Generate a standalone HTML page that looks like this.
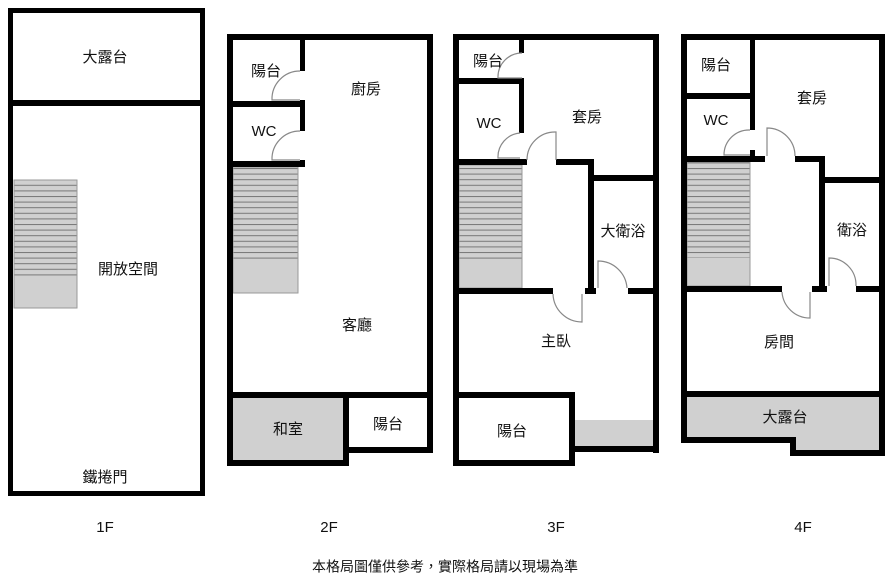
<!DOCTYPE html>
<html><head><meta charset="utf-8"><style>
html,body{margin:0;padding:0;background:#fff;}
svg{display:block;}
text{font-family:"Liberation Sans","Noto Sans CJK TC",sans-serif;font-size:15px;fill:#111;text-anchor:middle;dominant-baseline:middle;}
.d{fill:none;stroke:#888;stroke-width:1.2;}
.p{fill:#fff;stroke:#888;stroke-width:1;}
</style></head><body>
<svg width="889" height="584" viewBox="0 0 889 584" xmlns="http://www.w3.org/2000/svg">
<defs>
<pattern id="st" x="0" y="0" width="10" height="5.6" patternUnits="userSpaceOnUse">
<rect width="10" height="5.6" fill="#d0d0d0"/><line x1="0" y1="0.5" x2="10" y2="0.5" stroke="#777" stroke-width="1"/>
</pattern>
</defs>
<!-- 1F -->
<g>
<rect x="14" y="180" width="63" height="98" fill="url(#st)"/>
<rect x="14" y="278" width="63" height="30" fill="#d0d0d0"/>
<rect x="14" y="180" width="63" height="128" fill="none" stroke="#999" stroke-width="1"/>
<rect x="8" y="8" width="197" height="5"/><rect x="8" y="8" width="5" height="488"/>
<rect x="200" y="8" width="5" height="488"/><rect x="8" y="491" width="197" height="5"/>
<rect x="8" y="100" width="197" height="6"/>
<text x="105" y="58">大露台</text><text x="128" y="270">開放空間</text><text x="105" y="478">鐵捲門</text>
</g>
<!-- 2F -->
<g>
<rect x="233" y="167" width="65" height="96" fill="url(#st)"/>
<rect x="233" y="263" width="65" height="30" fill="#d0d0d0"/>
<rect x="233" y="167" width="65" height="126" fill="none" stroke="#999"/>
<rect x="233" y="398" width="112" height="62" fill="#d0d0d0"/>
<rect x="228" y="34" width="205" height="6"/><rect x="227" y="34" width="6" height="432"/>
<rect x="427" y="34" width="6" height="419"/>
<rect x="300" y="40" width="5" height="31"/><rect x="300" y="100" width="5" height="31"/><rect x="300" y="160" width="5" height="7"/>
<rect x="233" y="101" width="72" height="6"/><rect x="233" y="161" width="72" height="6"/>
<rect x="228" y="392" width="205" height="6"/>
<rect x="343" y="392" width="6" height="74"/><rect x="227" y="460" width="122" height="6"/>
<rect x="343" y="447" width="90" height="6"/>
<path class="d" d="M300 71 A28 28 0 0 0 272 100 L300 100"/>
<path class="d" d="M300 131 A28 28 0 0 0 272 160 L300 160"/>
<text x="266" y="72">陽台</text><text x="264" y="132">WC</text><text x="366" y="90">廚房</text>
<text x="357" y="326">客廳</text><text x="288" y="430">和室</text><text x="388" y="425">陽台</text>
</g>
<!-- 3F -->
<g>
<rect x="459" y="165" width="63" height="96" fill="url(#st)"/>
<rect x="459" y="261" width="63" height="27" fill="#d0d0d0"/>
<rect x="459" y="165" width="63" height="123" fill="none" stroke="#999"/>
<rect x="575" y="420" width="78" height="26" fill="#d0d0d0"/>
<rect x="453" y="34" width="206" height="6"/><rect x="453" y="34" width="6" height="432"/>
<rect x="653" y="34" width="6" height="419"/>
<rect x="519" y="40" width="5" height="13"/><rect x="519" y="78" width="5" height="55"/>
<rect x="459" y="78" width="65" height="6"/>
<rect x="459" y="159" width="68" height="6"/><rect x="556" y="159" width="38" height="6"/>
<rect x="588" y="159" width="6" height="135"/><rect x="594" y="175" width="59" height="6"/>
<rect x="459" y="288" width="94" height="6"/><rect x="585" y="288" width="11" height="6"/><rect x="628" y="288" width="25" height="6"/>
<rect x="453" y="392" width="122" height="6"/><rect x="569" y="392" width="6" height="74"/>
<rect x="453" y="460" width="122" height="6"/><rect x="569" y="446" width="90" height="6"/>
<path class="d" d="M522 53 A24 24 0 0 0 498 78 L522 78"/>
<path class="d" d="M520 133 A24 24 0 0 0 498 158 L520 158"/>
<path class="d" d="M556 160 L556 132 A28 28 0 0 0 527 160"/>
<path class="d" d="M598 288 L598 261 A29 29 0 0 1 627 288"/>
<path class="d" d="M582 294 L582 322 A29 29 0 0 1 553 294"/>
<text x="488" y="62">陽台</text><text x="489" y="124">WC</text><text x="587" y="118">套房</text>
<text x="623" y="232">大衛浴</text><text x="556" y="342">主臥</text><text x="512" y="432">陽台</text>
</g>
<!-- 4F -->
<g>
<rect x="687" y="162" width="63" height="96" fill="url(#st)"/>
<rect x="687" y="258" width="63" height="28" fill="#d0d0d0"/>
<rect x="687" y="162" width="63" height="124" fill="none" stroke="#999"/>
<path d="M687 397 H880 V450 H796 V437 H687 Z" fill="#d0d0d0"/>
<rect x="681" y="34" width="204" height="6"/><rect x="681" y="34" width="6" height="409"/>
<rect x="879" y="34" width="6" height="422"/>
<rect x="750" y="40" width="5" height="90"/><rect x="750" y="150" width="5" height="12"/>
<rect x="687" y="93" width="68" height="6"/>
<rect x="687" y="156" width="78" height="6"/><rect x="795" y="156" width="30" height="6"/>
<rect x="819" y="156" width="6" height="136"/><rect x="825" y="177" width="60" height="6"/>
<rect x="687" y="286" width="95" height="6"/><rect x="812" y="286" width="15" height="6"/><rect x="856" y="286" width="29" height="6"/>
<rect x="681" y="391" width="204" height="6"/>
<rect x="681" y="437" width="115" height="6"/><rect x="790" y="437" width="6" height="19"/><rect x="790" y="450" width="95" height="6"/>
<path class="d" d="M750 130 A25 25 0 0 0 724 155 L750 155"/>
<path class="d" d="M767 156 L767 128 A28 28 0 0 1 795 156"/>
<path class="d" d="M829 286 L829 258 A27 27 0 0 1 856 286"/>
<path class="d" d="M810 292 L810 318 A28 28 0 0 1 782 292"/>
<text x="716" y="66">陽台</text><text x="716" y="121">WC</text><text x="812" y="99">套房</text>
<text x="852" y="231">衛浴</text><text x="779" y="343">房間</text><text x="785" y="418">大露台</text>
</g>
<text x="105" y="528">1F</text><text x="329" y="528">2F</text><text x="556" y="528">3F</text><text x="803" y="528">4F</text>
<text x="445" y="568" style="font-size:14px">本格局圖僅供參考，實際格局請以現場為準</text>
</svg>
</body></html>
